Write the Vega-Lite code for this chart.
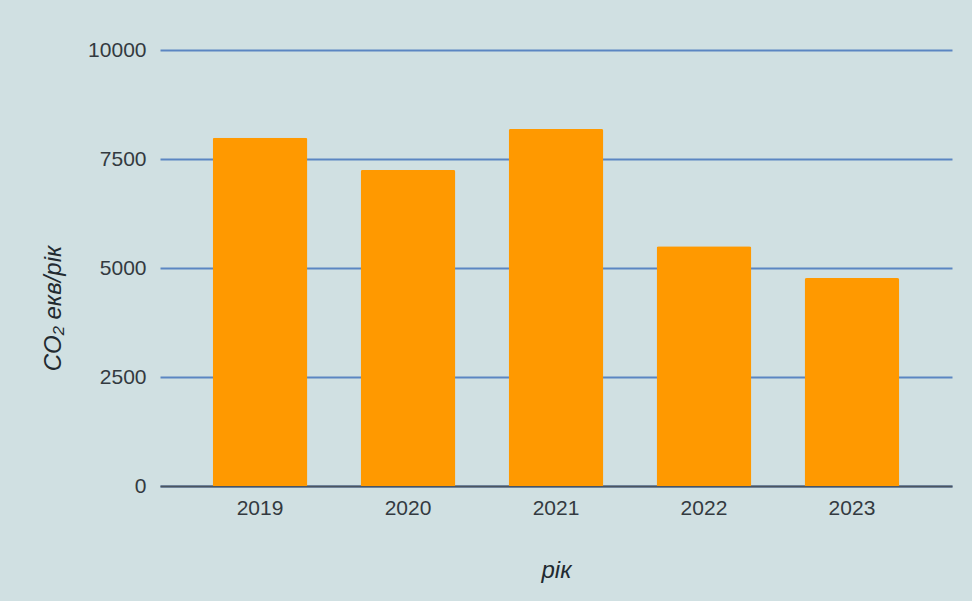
{
  "$schema": "https://vega.github.io/schema/vega-lite/v6.json",
  "width": 792,
  "height": 436,
  "autosize": {"type": "none"},
  "padding": {"left": 160, "top": 50, "right": 20, "bottom": 115},
  "background": "#d0e0e2",
  "data": {
    "values": [
      {"year": "2019", "co2": 7990},
      {"year": "2020", "co2": 7250},
      {"year": "2021", "co2": 8190},
      {"year": "2022", "co2": 5500},
      {"year": "2023", "co2": 4770}
    ]
  },
  "mark": {"type": "bar", "color": "#ff9900", "cornerRadiusTopLeft": 2, "cornerRadiusTopRight": 2},
  "encoding": {
    "x": {
      "field": "year",
      "type": "ordinal",
      "scale": {"paddingInner": 0.36, "paddingOuter": 0.356},
      "axis": {
        "title": "рік",
        "labelAngle": 0,
        "labelFontSize": 21,
        "labelPadding": 11,
        "ticks": false,
        "domainColor": "#4b5560",
        "domainWidth": 2,
        "titleFontSize": 24,
        "titleFontStyle": "italic",
        "titleFontWeight": "normal",
        "titlePadding": 40
      }
    },
    "y": {
      "field": "co2",
      "type": "quantitative",
      "scale": {"domain": [0, 10000], "nice": false},
      "axis": {
        "title": "CO₂ екв/рік",
        "values": [0, 2500, 5000, 7500, 10000],
        "format": "d",
        "labelFontSize": 21,
        "labelPadding": 14,
        "ticks": false,
        "domain": false,
        "gridColor": "#5b86c2",
        "gridWidth": 2,
        "titleFontSize": 24,
        "titleFontStyle": "italic",
        "titleFontWeight": "normal",
        "titlePadding": 22,
        "titleY": 258
      }
    }
  },
  "config": {
    "font": "Liberation Sans",
    "view": {"stroke": null},
    "axis": {"labelColor": "#333a40", "titleColor": "#222a30"}
  }
}
